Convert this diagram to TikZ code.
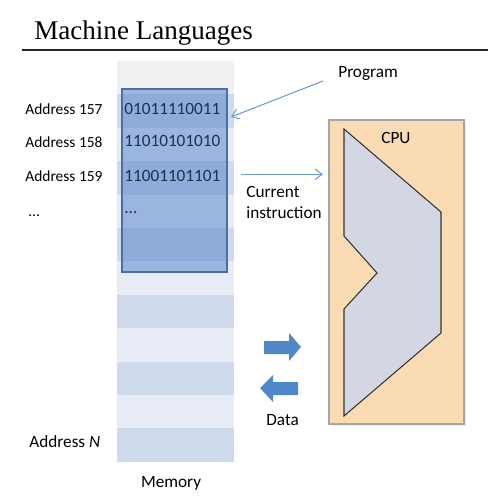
\documentclass[tikz,border=0pt]{standalone}
\usepackage{fontspec}
\setmainfont{Carlito}
\newfontfamily\titlefont{Liberation Serif}
\usetikzlibrary{arrows.meta}
\definecolor{rowgray}{HTML}{F0F0F0}
\definecolor{rowdark}{HTML}{CFDAED}
\definecolor{rowlight}{HTML}{E7ECF6}
\definecolor{progblue}{HTML}{4F7FC8}
\definecolor{progedge}{HTML}{4A6FA5}
\definecolor{bits}{HTML}{1F2F4F}
\definecolor{pointer}{HTML}{6D9BD1}
\definecolor{cpufill}{HTML}{FBDBB3}
\definecolor{cpuedge}{HTML}{A6A6A6}
\definecolor{corefill}{HTML}{D3D7E3}
\definecolor{datablue}{HTML}{4F88C9}

\begin{document}
\begin{tikzpicture}[x=0.02cm,y=-0.02cm,
		lbl/.style={anchor=base west,inner sep=0pt,font=\fontsize{9.8}{11}\selectfont},
		addr/.style={lbl,font=\fontsize{8.8}{10}\selectfont},
		bitstr/.style={lbl,text=bits},
		ptr/.style={draw=pointer,line width=0.6pt,-{Straight Barb[length=4pt,width=6pt]}},
		blockarrow/.style={fill=datablue}]
		\useasboundingbox (0,0) rectangle (488,497);
		% title
		\node[anchor=base west,inner sep=0pt,font=\titlefont\fontsize{15.4}{18}\selectfont] (title) at (34,39) {Machine Languages};
		\draw[line width=1pt,black!85] (22,50) -- (488,50);
		% memory rows
		\fill[rowgray] (117,61) rectangle (234,94.4);
		\foreach \i in {1,3,...,11}
			\fill[rowdark] (117,{61+33.4*\i}) rectangle (234,{61+33.4*(\i+1)});
		\foreach \i in {2,4,...,10}
			\fill[rowlight] (117,{61+33.4*\i}) rectangle (234,{61+33.4*(\i+1)});
		\fill[progblue,opacity=0.5] (122,89) rectangle (227,272);
		\draw[progedge,line width=0.6pt] (122,89) rectangle (227,272);
		\node[bitstr,text=white!60!rowgray] (b156) at (125,78) {...};
		\node[bitstr] (b157) at (124,114.3) {01011110011};
		\node[bitstr] (b158) at (124,146.7) {11010101010};
		\node[bitstr] (b159) at (124,181) {11001101101};
		\node[bitstr] (bdots) at (124,213) {...};
		\node[addr] (a157) at (25,114.5) {Address 157};
		\node[addr] (a158) at (25,147.7) {Address 158};
		\node[addr] (a159) at (25,181.7) {Address 159};
		\node[addr] (adots) at (28,216.7) {...};
		\node[lbl] (aN) at (29,447.7) {Address \textit{N}};
		\node[lbl] (mem) at (140.7,487.3) {Memory};
		% pointers
		\node[lbl] (prog) at (338,77.7) {Program};
		\coordinate (progtail) at (323,81);
		\coordinate (progtip) at (231,117);
		\draw[ptr] (progtail) -- (progtip);
		\coordinate (curtail) at (241,174.3);
		\coordinate (curtip) at (323,174.3);
		\draw[ptr] (curtail) -- (curtip);
		\node[lbl] (cur) at (246,197) {Current};
		\node[lbl] (instr) at (246,218) {instruction};
		% cpu
		\fill[black!8] (331,122) rectangle (466,426);
		\draw[fill=cpufill,draw=cpuedge,line width=0.6pt] (329,120) rectangle (464,424);
		\draw[fill=corefill,draw=black!80,line width=0.6pt] (344,129) -- (441,212) -- (441,333) -- (344,416)
			-- (344,309) -- (377,273) -- (344,236) -- cycle;
		\node[lbl] (cpu) at (381,143) {CPU};
		% data
		\fill[blockarrow] (264,341) -- (289,341) -- (289,333) -- (301,347) -- (289,361) -- (289,354) -- (264,354) -- cycle;
		\fill[blockarrow] (298,382) -- (273,382) -- (273,375) -- (260,388) -- (273,402) -- (273,395) -- (298,395) -- cycle;
		\node[lbl] (data) at (266,425.7) {Data};
\end{tikzpicture}
\end{document}
